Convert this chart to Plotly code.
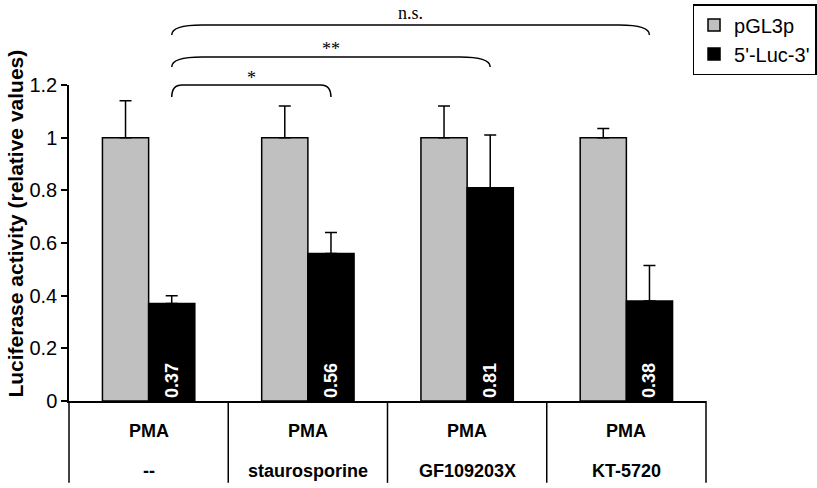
import plotly.graph_objects as go

# data
treatments = ["--", "staurosporine", "GF109203X", "KT-5720"]
stimulus = "PMA"
pgl3p = [1.0, 1.0, 1.0, 1.0]
pgl3p_err = [0.14, 0.12, 0.12, 0.035]
luc = [0.37, 0.56, 0.81, 0.38]
luc_err = [0.03, 0.08, 0.20, 0.135]

# significance brackets, all from the first group's 5'-Luc-3' bar
sig_to = [1, 2, 3]
sig_text = ["*", "**", "n.s."]
sig_top = [1.20, 1.306, 1.428]
sig_drop = [0.046, 0.038, 0.038]
sig_curve = [0.065, 0.19, 0.19]
sig_shift = [-5, -4, 0]  # asterisks sit high in the em box

FONT = "Arial, Liberation Sans, sans-serif"
YMAX = 1.2
BARGAP = 0.42
x = list(range(len(treatments)))
half = (1 - BARGAP) / 4  # offset of each bar centre inside its group

fig = go.Figure()
fig.add_trace(go.Bar(
    x=x, y=pgl3p, name="pGL3p",
    marker=dict(color="#C0C0C0", line=dict(color="black", width=1.5)),
    error_y=dict(type="data", array=pgl3p_err, arrayminus=[0] * 4, symmetric=False,
                 color="black", thickness=1.5, width=6),
))
fig.add_trace(go.Bar(
    x=x, y=luc, name="5'-Luc-3'",
    marker=dict(color="black", line=dict(color="black", width=1.5)),
    error_y=dict(type="data", array=luc_err, arrayminus=[0] * 4, symmetric=False,
                 color="black", thickness=1.5, width=6),
    text=[f"{v:.2f}" for v in luc], textposition="inside", insidetextanchor="start",
    textangle=-90, textfont=dict(color="white", size=18, family=FONT, weight="bold"),
))

shapes = []
annotations = []

# brackets
x0 = x[0] + half
for tgt, lab, top, drop, cw, sh in zip(sig_to, sig_text, sig_top, sig_drop, sig_curve, sig_shift):
    x1 = x[tgt] + half
    yt = top / YMAX
    yb = (top - drop) / YMAX
    shapes.append(dict(
        type="path", xref="x", yref="paper",
        path=f"M {x0},{yb} Q {x0},{yt} {x0 + cw},{yt} L {x1 - cw},{yt} Q {x1},{yt} {x1},{yb}",
        line=dict(color="black", width=1.5),
    ))
    annotations.append(dict(
        x=(x0 + x1) / 2, y=yt, xref="x", yref="paper", text=lab, showarrow=False,
        yanchor="bottom", yshift=sh,
        font=dict(family="Times New Roman, Liberation Serif, serif", size=18, color="black"),
    ))

# table under the x axis
n = len(treatments)
for k in range(n + 1):
    shapes.append(dict(type="line", xref="paper", yref="paper", x0=k / n, x1=k / n,
                       y0=0, y1=-0.259, line=dict(color="black", width=1.5)))
for i, t in enumerate(treatments):
    annotations.append(dict(x=x[i], y=-0.095, xref="x", yref="paper", showarrow=False,
                            yanchor="middle", text=f"<b>{stimulus}</b>",
                            font=dict(family=FONT, size=18, color="black")))
    annotations.append(dict(x=x[i], y=-0.222, xref="x", yref="paper", showarrow=False,
                            yanchor="middle", text=f"<b>{t}</b>",
                            font=dict(family=FONT, size=18, color="black")))

annotations.append(dict(x=-0.084, y=0.563, xref="paper", yref="paper", showarrow=False,
                        xanchor="center", yanchor="middle", textangle=-90,
                        text="<b>Luciferase activity (relative values)</b>",
                        font=dict(family=FONT, size=21, color="black")))

fig.update_layout(
    width=817, height=488,
    margin=dict(l=69, r=111, t=85, b=87, autoexpand=False),
    paper_bgcolor="white", plot_bgcolor="white",
    barmode="group", bargap=BARGAP, bargroupgap=0,
    shapes=shapes, annotations=annotations,
    showlegend=True,
    legend=dict(x=1.1735, y=1.256, xanchor="right", yanchor="top",
                bordercolor="black", borderwidth=1.5, bgcolor="white",
                font=dict(family=FONT, size=20, color="black")),
    xaxis=dict(range=[-0.5, 3.5], showline=True, linecolor="black", linewidth=1.5,
               showticklabels=False, ticks="", showgrid=False, zeroline=False),
    yaxis=dict(range=[0, YMAX], tick0=0, dtick=0.2, showline=True, linecolor="black",
               linewidth=1.5, ticks="outside", ticklen=6, tickwidth=1.5, tickcolor="black",
               showgrid=False, zeroline=False,
               tickfont=dict(family=FONT, size=20, color="black")),
    font=dict(family=FONT, color="black"),
)

# drop the browser's default 8px body margin so the figure fills the window
fig.write_html("out.html", config={"displayModeBar": False},
               post_script="document.body.style.margin = '0';")
